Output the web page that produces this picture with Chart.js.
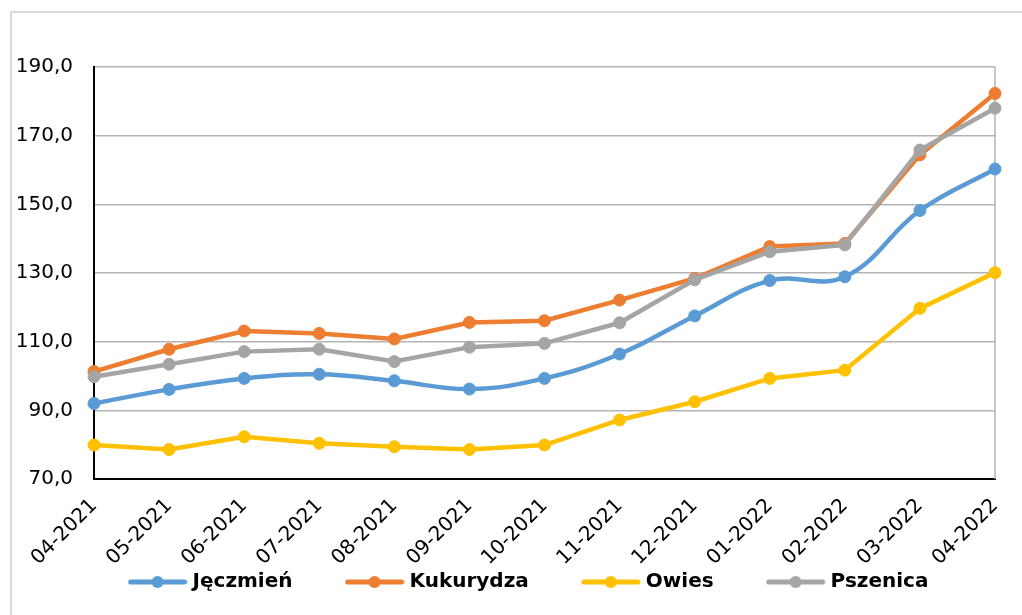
<!DOCTYPE html>
<html>
<head>
<meta charset="utf-8">
<script src="https://cdn.jsdelivr.net/npm/chart.js@4.4.1/dist/chart.umd.min.js"></script>
<style>
    html, body { margin: 0; padding: 0; overflow: hidden; background: #fff; }
    #frame { position: absolute; left: 10px; top: 11px; width: 1100px; height: 700px;
             border-left: 2px solid #d9d9d9; border-top: 2px solid #d9d9d9; }
    #priceChart { position: absolute; left: 12px; top: 14px; }
</style>
</head>
<body>
<div id="frame"></div>
<canvas id="priceChart" width="1040" height="652"></canvas>
<script>
const months = ['04-2021', '05-2021', '06-2021', '07-2021', '08-2021', '09-2021', '10-2021',
    '11-2021', '12-2021', '01-2022', '02-2022', '03-2022', '04-2022'];

const jeczmien  = [92.0, 96.1, 99.3, 100.5, 98.6, 96.2, 99.3, 106.4, 117.5, 127.8, 128.9, 148.2, 160.3];
const kukurydza = [101.3, 107.8, 113.1, 112.4, 110.8, 115.6, 116.1, 122.1, 128.4, 137.7, 138.6, 164.4, 182.3];
const owies     = [79.9, 78.6, 82.3, 80.4, 79.4, 78.6, 79.9, 87.2, 92.5, 99.3, 101.7, 119.7, 130.1];
const pszenica  = [99.8, 103.4, 107.1, 107.8, 104.2, 108.4, 109.5, 115.5, 128.0, 136.2, 138.2, 165.8, 178.0];

const seriesNames = ['Jęczmień', 'Kukurydza', 'Owies', 'Pszenica'];
const seriesColors = ['#5B9BD5', '#ED7D31', '#FFC000', '#A5A5A5'];

const gridColor = '#b3b3b3';

// legend icon: short thick line with a dot in the middle
function legendIcon(color) {
    const c = document.createElement('canvas');
    c.width = 60;
    c.height = 14;
    const ctx = c.getContext('2d');
    ctx.strokeStyle = color;
    ctx.lineWidth = 5;
    ctx.lineCap = 'round';
    ctx.beginPath();
    ctx.moveTo(3, 7);
    ctx.lineTo(57, 7);
    ctx.stroke();
    ctx.fillStyle = color;
    ctx.beginPath();
    ctx.arc(30, 7, 6, 0, Math.PI * 2);
    ctx.fill();
    return c;
}

// right edge of the plot area in grid colour
const plotFrame = {
    id: 'plotFrame',
    beforeDatasetsDraw(chart) {
        const {ctx, chartArea} = chart;
        ctx.save();
        ctx.strokeStyle = gridColor;
        ctx.lineWidth = 1.5;
        ctx.beginPath();
        ctx.moveTo(chartArea.right, chartArea.top);
        ctx.lineTo(chartArea.right, chartArea.bottom);
        ctx.stroke();
        ctx.restore();
    }
};

// put the legend row right under the rotated labels
const legendPlace = {
    id: 'legendPlace',
    afterLayout(chart) {
        const lg = chart.legend;
        const dy = (lg.top + lg.options.labels.padding + 10) - 568;
        lg.top -= dy;
        lg.bottom -= dy;
        lg.left += 27;
        lg.right += 27;
    }
};

const allData = [jeczmien, kukurydza, owies, pszenica];

const datasets = seriesNames.map((name, i) => ({
    label: name,
    data: allData[i],
    borderColor: seriesColors[i],
    backgroundColor: seriesColors[i],
    borderWidth: 4.5,
    pointRadius: 6,
    pointBorderWidth: 1,
    pointHoverRadius: 6,
    tension: i === 0 ? 0.4 : 0,
    order: 4 - i,
    clip: false
}));

Chart.defaults.color = '#000';
Chart.defaults.font.family = '"DejaVu Sans", Verdana, sans-serif';

new Chart(document.getElementById('priceChart'), {
    type: 'line',
    data: {
        labels: months,
        datasets: datasets
    },
    options: {
        responsive: false,
        animation: false,
        layout: {
            padding: { left: 0, right: 57, top: 53, bottom: 0 }
        },
        plugins: {
            legend: {
                position: 'bottom',
                labels: {
                    usePointStyle: true,
                    pointStyleWidth: 50,
                    padding: 57,
                    font: { size: 20, weight: 'bold' },
                    sort: (a, b) => a.datasetIndex - b.datasetIndex,
                    generateLabels: chart => {
                        const items = Chart.defaults.plugins.legend.labels.generateLabels(chart);
                        items.forEach(item => {
                            item.pointStyle = legendIcon(seriesColors[item.datasetIndex]);
                        });
                        return items;
                    }
                }
            },
            tooltip: { enabled: false }
        },
        scales: {
            x: {
                offset: false,
                grid: { display: false, drawTicks: false },
                border: { color: '#000', width: 2 },
                ticks: {
                    minRotation: 45,
                    maxRotation: 45,
                    autoSkip: false,
                    padding: 15,
                    font: { size: 20 }
                },
                afterFit: scale => { scale.height = 100; }
            },
            y: {
                min: 70,
                max: 190,
                grid: { color: gridColor, lineWidth: 1.5, drawTicks: false },
                border: { color: '#000', width: 2 },
                ticks: {
                    stepSize: 20,
                    padding: 21,
                    font: { size: 20 },
                    callback: v => v.toFixed(1).replace('.', ',')
                },
                afterFit: scale => { scale.width = 82; }
            }
        }
    },
    plugins: [plotFrame, legendPlace]
});
</script>
</body>
</html>
